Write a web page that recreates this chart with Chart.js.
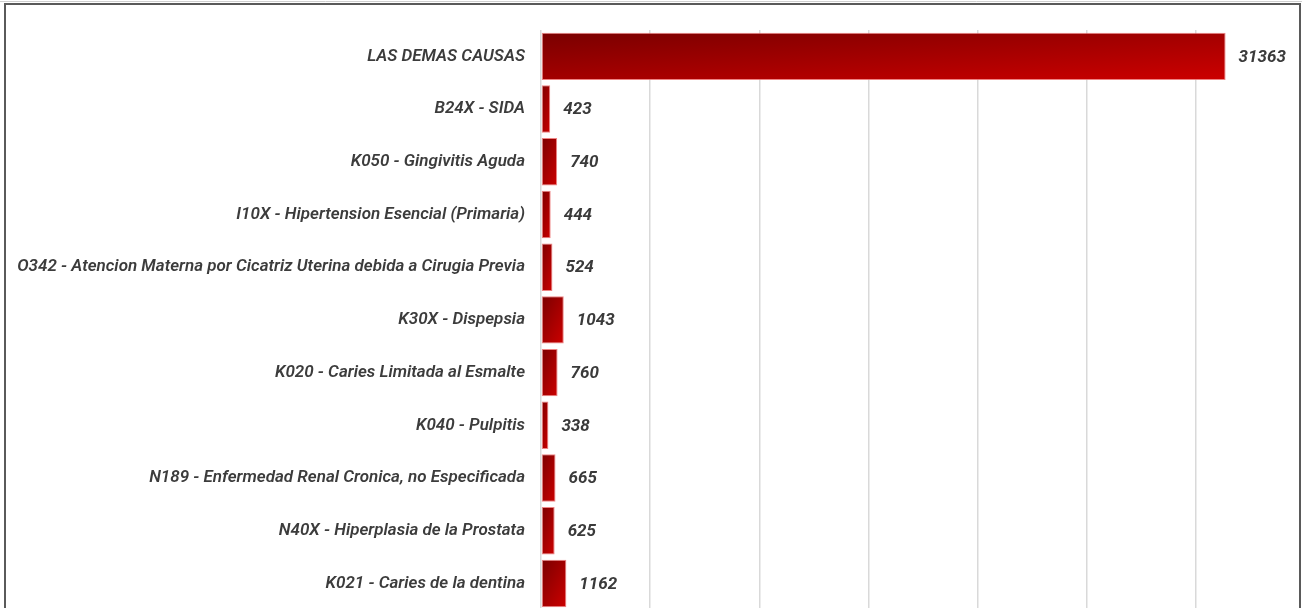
<html>
<head>
<meta charset="UTF-8">
<title>Causas de consulta</title>
<script src="https://cdn.jsdelivr.net/npm/chart.js"></script>
<style>
  body { margin: 0; overflow: hidden; background: #fff; }
  #wrap { position: absolute; left: 0; top: 0; width: 1310px; height: 640px; }
</style>
</head>
<body>
<div id="wrap"><canvas id="myChart" width="1310" height="636"></canvas></div>
<script>
  // categorias y valores
  const causas = [
    'LAS DEMAS CAUSAS',
    'B24X - SIDA',
    'K050 - Gingivitis Aguda',
    'I10X - Hipertension Esencial (Primaria)',
    'O342 - Atencion Materna por Cicatriz Uterina debida a Cirugia Previa',
    'K30X - Dispepsia',
    'K020 - Caries Limitada al Esmalte',
    'K040 - Pulpitis',
    'N189 - Enfermedad Renal Cronica, no Especificada',
    'N40X - Hiperplasia de la Prostata',
    'K021 - Caries de la dentina'
  ];
  const casos = [31363, 423, 740, 444, 524, 1043, 760, 338, 665, 625, 1162];

  const fuente = '"Roboto", "Liberation Sans", sans-serif';

  // degradado diagonal dentro de cada barra (como en Excel)
  function colorBarra(c) {
    const chart = c.chart;
    const xs = chart.scales.x, ys = chart.scales.y;
    if (!chart.chartArea || !xs || !ys || c.type !== 'data') return '#a00000';
    const x0 = xs.getPixelForValue(0);
    const x1 = xs.getPixelForValue(c.raw);
    const yc = ys.getPixelForValue(c.dataIndex);
    const h = 47;
    const w = Math.max(x1 - x0, 1);
    const top = yc - h / 2;
    const gx = 1 / (2 * w), gy = 1 / (2 * h);
    const n = gx * gx + gy * gy;
    const g = chart.ctx.createLinearGradient(x0, top, x0 + gx / n, top + gy / n);
    g.addColorStop(0, '#7a0000');
    g.addColorStop(1, '#cc0000');
    return g;
  }

  // etiquetas de valor y marco
  const extras = {
    id: 'extras',
    afterDatasetsDraw(chart) {
      const ctx = chart.ctx;
      const meta = chart.getDatasetMeta(0);
      ctx.save();
      ctx.font = 'italic bold 17px ' + fuente;
      ctx.fillStyle = '#3a3a3a';
      ctx.textAlign = 'left';
      ctx.textBaseline = 'middle';
      meta.data.forEach((bar, i) => {
        ctx.fillText(String(casos[i]), bar.x + 13, bar.y + 1);
      });
      ctx.restore();
    },
    afterDraw(chart) {
      const ctx = chart.ctx;
      ctx.save();
      ctx.strokeStyle = '#cfcfcf';
      ctx.lineWidth = 1;
      ctx.beginPath();
      ctx.moveTo(0, 1.5); ctx.lineTo(1302, 1.5);
      ctx.stroke();
      ctx.strokeStyle = '#5a5a5a';
      ctx.lineWidth = 2;
      ctx.beginPath();
      ctx.moveTo(5, 640); ctx.lineTo(5, 4); ctx.lineTo(1300, 4); ctx.lineTo(1300, 640);
      ctx.stroke();
      ctx.restore();
    }
  };

  const ctx = document.getElementById('myChart').getContext('2d');
  new Chart(ctx, {
    type: 'bar',
    data: {
      labels: causas,
      datasets: [{
        data: casos,
        backgroundColor: colorBarra,
        borderColor: 'rgba(235,110,110,0.85)',
        borderWidth: 1,
        borderSkipped: false,
        categoryPercentage: 1,
        barPercentage: 0.9
      }]
    },
    options: {
      indexAxis: 'y',
      responsive: false,
      animation: false,
      layout: { padding: { top: 30, right: 5, bottom: 0, left: 0 } },
      plugins: { legend: { display: false }, tooltip: { enabled: false } },
      scales: {
        x: {
          min: 0, max: 35000,
          afterFit: s => { s.height = 0; },
          ticks: { display: false, stepSize: 5000 },
          grid: { color: '#d9d9d9', lineWidth: 1.5, drawTicks: false },
          border: { display: false }
        },
        y: {
          afterFit: s => { s.width = 541; },
          ticks: {
            padding: 16,
            color: '#3c3c3c',
            font: { family: fuente, size: 17, style: 'italic', weight: '600' }
          },
          grid: { display: false, drawTicks: false },
          border: { display: false }
        }
      }
    },
    plugins: [extras]
  });
</script>
</body>
</html>
